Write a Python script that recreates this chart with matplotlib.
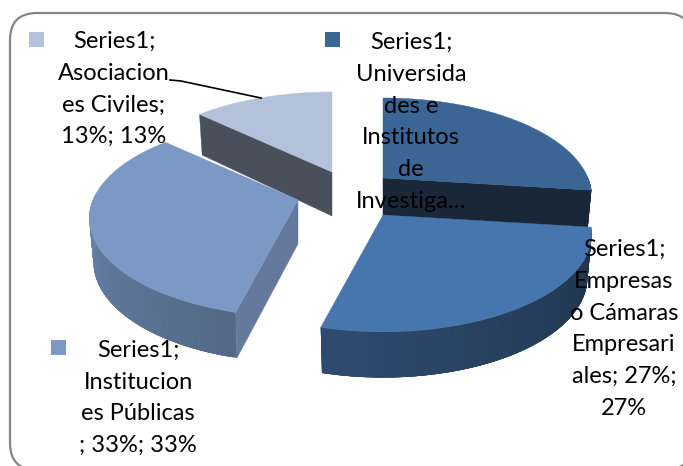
import numpy as np
import matplotlib
matplotlib.use("Agg")
import matplotlib.pyplot as plt
from matplotlib.colors import to_rgb
from matplotlib.patches import FancyBboxPatch, Rectangle

# Chart data, clockwise from 12 o'clock
categories = ["Universidades e Institutos de Investiga…", "Empresas o Cámaras Empresariales",
              "Instituciones Públicas", "Asociaciones Civiles"]
percents = [27, 27, 33, 13]

# Labels as they wrap in the picture
labels = ["Series1;\nUniversida\ndes e\nInstitutos\nde\nInvestiga…",
          "Series1;\nEmpresas\no Cámaras\nEmpresari\nales; 27%;\n27%",
          "Series1;\nInstitucion\nes Públicas\n; 33%; 33%",
          "Series1;\nAsociacion\nes Civiles;\n13%; 13%"]

# Styles, same order as the data
top_colors = ["#3A6594", "#4776AE", "#7C98C4", "#B3C1DB"]
cut_colors = ["#192738", None, "#64799C", "#4A505B"]
rim_colors = [("#192738", "#192738"), ("#1E3349", "#2F4B70"), ("#546987", "#7390BC"), ("#4A505B", "#4A505B")]
cut_at_start = [False, False, True, True]
apex = [(383, 178), (383, 215), (298, 200), (332, 172)]
label_pos = [(411, 122), (624, 329), (138, 398), (114, 89)]
key_pos = [(325, 32), (540, 240), (51, 340), (29, 32)]

RX, RY, PERSP = 205, 95, 0.187


def rim_xy(angle, center):
    # perspective squashed circle, far side comes out smaller
    w = 1 + PERSP * np.sin(angle)
    return center[0] + RX * np.cos(angle) / w, center[1] - RY * np.sin(angle) / w


def lower_xy(x, y, angle, center):
    # bottom edge of the pie, a bit narrower and deeper in front
    d = 43 - 5 * np.sin(angle)
    return center[0] + (x - center[0]) * 0.98, center[1] + (y - center[1]) * 0.98 + d


fig = plt.figure(figsize=(6.83, 4.66), dpi=100)
ax = fig.add_axes([0, 0, 1, 1])
ax.set_xlim(0, 683)
ax.set_ylim(466, 0)
ax.axis("off")

ax.add_patch(FancyBboxPatch((37, 40), 628, 403, boxstyle="round,pad=27,rounding_size=27",
                            fc="white", ec="#868686", lw=1.6, clip_on=True))

# Angles come from the values
edges = np.cumsum([0] + percents) / sum(percents) * 2 * np.pi
starts = np.pi / 2 - edges[:-1]
ends = np.pi / 2 - edges[1:]

for i in [3, 0, 2, 1]:
    c = apex[i]
    t = np.linspace(starts[i], ends[i], 120)
    x, y = rim_xy(t, c)

    # flat cut face
    if cut_colors[i]:
        a = starts[i] if cut_at_start[i] else ends[i]
        rx, ry = rim_xy(a, c)
        lx, ly = lower_xy(rx, ry, a, c)
        ax.fill([c[0], rx, lx, c[0]], [c[1], ry, ly, c[1] + 44], color=cut_colors[i], lw=0.3)

    # outer wall, shaded along the arc, each piece overlaps the next so no seams show
    c0, c1 = np.array(to_rgb(rim_colors[i][0])), np.array(to_rgb(rim_colors[i][1]))
    lx, ly = lower_xy(x, y, t, c)
    for j in range(len(t) - 1):
        if np.sin(t[j]) > 0.02:
            continue
        k = min(j + 4, len(t) - 1)
        f = j / (len(t) - 2)
        ax.fill(np.r_[x[j:k + 1], lx[j:k + 1][::-1]], np.r_[y[j:k + 1], ly[j:k + 1][::-1]],
                color=c0 + (c1 - c0) * f, lw=0)

    # top surface
    ax.fill(np.r_[c[0], x], np.r_[c[1], y], color=top_colors[i], lw=0.3)

# Leader line of the Asociaciones label
ax.plot([170, 181, 261], [80, 81, 98], color="black", lw=1.2)

for i in range(len(categories)):
    ax.add_patch(Rectangle(key_pos[i], 15, 15, color=top_colors[i], lw=0))
    ax.text(label_pos[i][0], label_pos[i][1], labels[i], ha="center", va="center", multialignment="center",
            fontsize=17, family="Lato", linespacing=1.64, color="black")

fig.savefig("out.png", dpi=100)
